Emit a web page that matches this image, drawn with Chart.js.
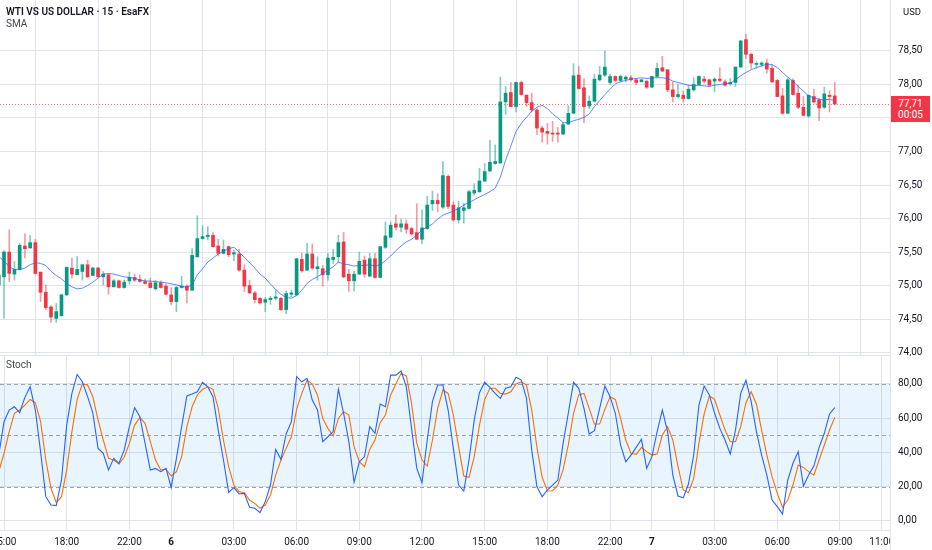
<!DOCTYPE html>
<html><head><meta charset="utf-8">
<script src="https://cdn.jsdelivr.net/npm/chart.js@4.4.1/dist/chart.umd.min.js"></script>
<style>
html,body{margin:0;padding:0;background:#fff;width:932px;height:550px;overflow:hidden;font-family:Roboto,"Liberation Sans",sans-serif;}
#wrap{position:relative;width:932px;height:550px;}
#c1{position:absolute;left:0;top:0;}
#c2{position:absolute;left:0;top:356px;}
.lbl{position:absolute;white-space:nowrap;line-height:12px;}
#pbox{position:absolute;left:891px;width:39px;height:26px;background:#F23645;color:#fff;font-size:10px;line-height:11px;text-align:center;padding-top:2px;box-sizing:border-box;}
</style></head>
<body><div id="wrap">
<canvas id="c1" width="932" height="356"></canvas>
<canvas id="c2" width="932" height="194"></canvas>
<div class="lbl" style="left:6px;top:6px;font-size:10px;font-weight:600;color:#131722">WTI VS US DOLLAR · 15 · EsaFX</div>
<div class="lbl" style="left:6px;top:18px;font-size:10px;color:#434651">SMA</div>
<div class="lbl" style="left:903px;top:6px;font-size:9.5px;color:#131722">USD</div>
<div class="lbl" style="left:6px;top:359px;font-size:10px;color:#434651">Stoch</div>
<div id="pbox"><div>77,71</div><div>00:05</div></div>
</div>
<script>
const xTickIdx = [1,13,25,33,45,57,69,81,93,105,117,125,137,149,161,169];
const xTickLabels = ["15:00","18:00","22:00","6","03:00","06:00","09:00","12:00","15:00","18:00","22:00","7","03:00","06:00","09:00","11:00"];
const priceTicks = [74,74.5,75,75.5,76,76.5,77,77.5,78,78.5];
const stochTicks = [0,20,40,60,80];
const lastTimeLabel = "00:05";

const open = [75.01,75.13,75.50,75.17,75.24,75.59,75.56,75.64,75.20,74.90,
74.68,74.51,74.55,74.86,75.26,75.16,75.21,75.31,75.15,75.26,
75.13,75.16,74.98,75.07,74.97,75.07,75.12,75.09,75.06,75.04,
74.95,75.04,74.99,74.86,74.76,74.97,74.99,74.93,75.43,75.70,
75.73,75.75,75.59,75.48,75.58,75.47,75.47,75.23,75.00,74.89,
74.81,74.75,74.79,74.81,74.81,74.64,74.87,74.86,75.39,75.23,
75.47,75.25,75.25,75.16,75.39,75.43,75.65,75.17,75.07,75.17,
75.38,75.14,75.40,75.12,75.57,75.72,75.92,75.87,75.92,75.85,
75.79,75.69,75.85,76.22,76.27,76.17,76.63,76.20,75.98,76.12,
76.15,76.38,76.40,76.56,76.71,76.82,76.83,77.74,77.88,77.67,
78.03,77.84,77.73,77.62,77.35,77.30,77.27,77.27,77.26,77.41,
77.57,78.14,77.95,77.68,77.75,78.07,78.14,78.03,78.12,78.06,
78.08,78.10,78.07,78.04,78.05,77.96,78.12,78.25,78.22,77.92,
77.82,77.84,77.79,77.92,78.00,78.08,78.07,78.05,78.08,78.04,
78.01,78.03,78.26,78.67,78.45,78.30,78.30,78.32,78.24,78.06,
77.83,77.57,78.06,77.87,77.66,77.53,77.82,77.77,77.66,77.84,
77.83];
const high = [75.20,75.52,75.83,75.36,75.63,75.77,75.75,75.69,75.20,75.01,
74.70,74.73,74.87,75.28,75.41,75.43,75.31,75.38,75.27,75.27,
75.21,75.17,75.09,75.08,75.08,75.20,75.17,75.16,75.10,75.11,
75.08,75.07,75.02,74.97,74.99,75.14,75.01,75.55,76.04,75.89,
75.88,75.79,75.69,75.68,75.59,75.53,75.54,75.31,75.08,74.91,
74.82,74.82,74.84,74.94,74.82,74.92,74.93,75.40,75.48,75.63,
75.62,75.43,75.30,75.48,75.54,75.75,75.79,75.24,75.21,75.50,
75.44,75.48,75.48,75.58,75.95,75.95,76.05,75.99,75.98,75.87,
76.22,76.13,76.33,76.41,76.37,76.85,76.65,76.25,76.26,76.23,
76.42,76.52,76.75,76.82,77.17,77.10,78.11,77.97,78.03,78.04,
78.05,77.85,77.87,77.64,77.38,77.42,77.45,77.36,77.43,77.68,
78.31,78.27,78.09,77.83,78.15,78.27,78.50,78.15,78.13,78.14,
78.13,78.13,78.09,78.08,78.06,78.12,78.32,78.42,78.22,78.04,
78.00,77.90,77.99,78.10,78.13,78.12,78.08,78.10,78.25,78.07,
78.09,78.26,78.66,78.75,78.47,78.34,78.34,78.38,78.29,78.07,
77.94,78.09,78.09,77.99,77.82,77.84,77.93,77.79,77.96,77.91,
78.03];
const low = [74.98,74.51,75.06,75.08,75.23,75.41,75.56,75.17,74.76,74.64,
74.45,74.45,74.54,74.85,75.11,75.16,75.08,75.12,75.15,75.12,
75.01,74.87,74.98,74.96,74.96,75.02,75.06,75.05,75.02,74.96,
74.93,74.96,74.86,74.71,74.61,74.96,74.74,74.93,75.42,75.69,
75.68,75.57,75.44,75.47,75.43,75.37,75.21,74.91,74.88,74.74,
74.72,74.61,74.72,74.79,74.63,74.58,74.83,74.85,75.20,75.22,
75.24,75.08,74.99,75.08,75.33,75.34,75.11,74.91,74.92,75.16,
75.12,75.13,75.11,75.12,75.55,75.72,75.83,75.80,75.78,75.75,
75.68,75.62,75.84,76.12,76.10,76.15,76.15,75.96,75.93,75.93,
76.14,76.35,76.39,76.55,76.70,76.81,76.82,77.55,77.67,77.59,
77.84,77.67,77.59,77.25,77.14,77.11,77.15,77.14,77.25,77.40,
77.57,77.93,77.43,77.64,77.74,78.05,78.12,78.00,78.04,78.04,
78.04,78.05,78.00,78.04,77.94,77.95,78.11,78.19,77.89,77.74,
77.80,77.74,77.78,77.90,77.99,78.02,77.98,77.89,78.04,77.97,
77.99,77.97,78.26,78.39,78.24,78.24,78.26,78.17,78.03,77.82,
77.56,77.57,77.84,77.64,77.53,77.51,77.72,77.46,77.64,77.59,
77.69];
const close = [75.16,75.50,75.18,75.24,75.60,75.55,75.64,75.18,74.90,74.67,
74.53,74.61,74.86,75.27,75.17,75.24,75.31,75.13,75.26,75.13,
75.17,74.98,75.07,74.97,75.05,75.12,75.08,75.06,75.03,74.97,
75.04,74.97,74.87,74.76,74.97,74.99,74.93,75.45,75.70,75.73,
75.75,75.58,75.48,75.54,75.46,75.49,75.23,74.99,74.89,74.79,
74.74,74.79,74.81,74.83,74.64,74.88,74.89,75.40,75.22,75.47,
75.26,75.28,75.16,75.41,75.42,75.64,75.13,75.07,75.17,75.36,
75.17,75.40,75.12,75.58,75.74,75.90,75.87,75.92,75.84,75.77,
75.69,75.86,76.20,76.27,76.22,76.64,76.18,75.98,76.16,76.16,
76.40,76.42,76.56,76.70,76.84,76.85,77.74,77.87,77.67,78.03,
77.85,77.73,77.62,77.35,77.29,77.27,77.26,77.26,77.40,77.57,
78.13,77.94,77.67,77.75,78.08,78.14,78.26,78.12,78.06,78.12,
78.11,78.07,78.03,78.07,77.96,78.12,78.24,78.20,77.92,77.82,
77.85,77.79,77.93,78.00,78.12,78.05,77.99,78.08,78.06,77.99,
78.03,78.26,78.65,78.45,78.32,78.31,78.32,78.23,78.04,77.82,
77.57,78.07,77.85,77.66,77.54,77.84,77.74,77.65,77.86,77.82,
77.71];

const smaIdx = [0,1,2,3,4,5,6,7,8,9,10,11,12,13,14,15,16,17,18,19,20,21,22,23,24,26,27,28,30,32,34,36,37,38,39,
40,41,42,43,44,45,46,47,48,49,50,51,52,53,54,55,56,57,58,59,60,61,62,63,64,65,66,67,68,69,70,71,72,73,74,75,76,77,78,79,
80,81,82,83,84,85,86,87,88,89,90,91,92,93,94,95,96,97,98,99,100,101,102,103,104,105,106,107,108,109,110,111,112,113,114,115,116,117,118,119,
120,121,122,123,124,125,126,127,128,129,130,131,132,133,134,135,136,137,138,139,140,141,142,143,144,145,146,147,148,149,150,151,152,153,154,155,156,157,158,159,160];
const smaVal = [75.43,75.37,75.28,75.24,75.24,75.26,75.31,75.34,75.33,75.30,75.21,75.15,75.10,75.03,74.98,74.95,74.96,75.00,75.05,75.11,75.17,75.18,75.17,75.15,75.13,75.11,75.08,75.07,75.06,75.04,75.01,74.97,75.01,75.16,75.25,
75.35,75.41,75.47,75.51,75.55,75.57,75.50,75.42,75.34,75.26,75.17,75.11,75.02,74.94,74.87,74.82,74.81,74.85,74.93,75.03,75.09,75.13,75.18,75.23,75.28,75.35,75.32,75.31,75.29,75.30,75.30,75.31,75.29,75.31,75.37,75.44,75.52,75.59,75.65,75.69,
75.75,75.83,75.87,75.92,75.99,76.05,76.08,76.11,76.15,76.20,76.24,76.28,76.32,76.36,76.40,76.45,76.62,76.87,77.08,77.30,77.42,77.51,77.60,77.66,77.69,77.64,77.56,77.50,77.43,77.43,77.46,77.48,77.51,77.56,77.67,77.76,77.85,77.93,78.01,78.04,
78.06,78.08,78.09,78.10,78.09,78.10,78.10,78.10,78.09,78.05,78.03,78.01,77.99,77.98,77.99,77.98,77.97,77.99,78.00,78.01,78.02,78.07,78.13,78.18,78.22,78.25,78.28,78.30,78.30,78.25,78.18,78.11,78.05,77.97,77.90,77.83,77.80,77.78,77.77,77.78,77.76];

const stochK = [38.5,58,64.8,66.7,63.2,72.2,78.4,64.8,40.5,14.2,
9.3,9,24,56,74.5,85.6,81.3,72.6,63.2,42.4,
39.5,29.8,36.6,33.7,41.4,55.1,66.2,60.9,45.3,29.8,
30.7,28.8,30.7,19.6,36.6,55.1,73,74.1,75.5,81,
78.4,72.6,53.1,35.6,16.7,19.5,15.8,16.1,8,7.4,
4.9,11.3,21,41.8,36,50.8,58,84.3,81.3,83.3,
70.6,64.8,46.3,49.2,52.2,76.9,62.9,46.3,22.6,34.6,
37.6,55.1,51.2,68.3,66.7,85.2,85.2,87.6,78.4,54.1,
30.7,22.4,47.3,69.7,79.4,79.4,64.8,42.4,21,17.5,
35.6,59,74.9,81,78,74.5,71.6,77.5,78.4,83.9,
82.3,71.6,41.4,20,14.2,18.1,21,23.9,45.3,62.9,
81,77.5,65.8,50.8,52.7,65.8,78.8,72.6,62.9,44.4,
34.6,38.5,43,47.7,30.7,37.6,52.2,64.8,52.2,26.8,
14.6,13.6,21.6,38.5,67.7,78.8,73.6,62.9,54.1,47.3,
39.1,53.1,74.5,82.3,69.7,52.2,38.5,26.8,12.2,8.4,
4.1,23.9,33.7,40.5,20.4,26.8,32.1,43,51.2,62.5,
66.2];
const stochD = [28.8,39.5,52.2,62.9,64.8,67.7,71,69.1,58,35.6,
19.1,10.7,14.2,29.8,52.2,71,80,79.4,72.6,59,
47.3,36.6,35.6,33.3,37.2,45.3,56,60.5,57,46.3,
35.6,29.8,30.2,26.3,28.8,37.6,55.1,66.7,73.6,76.9,
78.4,76.9,65.8,47.3,31.7,21,17.1,16.5,12.2,10.3,
7.4,9.3,15.2,26.8,35.6,42.4,49.2,65.2,74.5,82.3,
80,73.6,59.9,54.1,49.6,59.9,63.8,61.9,43.4,34.6,
31.7,41.8,47.3,57.4,61.9,73.6,80,86.2,84.7,68.7,
45.3,35.6,32.1,47.3,65.8,76.5,74.5,61.9,43.4,26.3,
25.5,37.6,56,71,77.5,77.5,74.5,74.1,75.5,80,
81.3,79.4,64.8,43,25.5,17.5,17.7,21,29.8,44.4,
62.9,73.6,74.5,65.8,56.6,56.6,65.2,72.6,71,59.9,
47.3,39.5,38.9,43,40.5,38.5,39.1,50.2,55.1,47.3,
31.7,18.1,16.5,24.9,45.3,62.5,73,71,61.9,53.1,
46.3,46.3,55.1,69.1,75.5,68.3,53.1,38.5,25.9,16.1,
8,12.2,21,32.7,31.3,28.8,26.8,35.6,44.4,53.1,
60.5];

const UP = '#089981', DN = '#F23645';
const UPW = 'rgba(8,153,129,0.5)', DNW = 'rgba(242,54,69,0.5)';
const GRID = '#e0e3eb';
const X_MIN = 0.2344, X_MAX = 170.57;

Chart.defaults.font.family = "Roboto, 'Liberation Sans', sans-serif";
Chart.defaults.font.size = 10;
Chart.defaults.color = '#131722';

const idx = open.map((_, i) => i);
const isUp = i => close[i] >= open[i];
const fmt = v => v.toFixed(2).replace('.', ',');

function xScale(showLabels) {
  return {
    type: 'linear', position: 'bottom', min: X_MIN, max: X_MAX, offset: false,
    grid: { color: GRID, drawTicks: false, lineWidth: 1 },
    border: { display: true, color: '#e0e3eb' },
    afterBuildTicks: s => { s.ticks = xTickIdx.map(v => ({ value: v })); },
    ticks: {
      display: showLabels, autoSkip: false, maxRotation: 0, padding: 6,
      callback: (v, i) => xTickLabels[i],
      font: ctx => ({ size: 10, weight: (ctx.tick && (ctx.tick.label === '6' || ctx.tick.label === '7')) ? 'bold' : 'normal' })
    },
    afterFit: s => { s.height = showLabels ? 20 : 0; s.paddingLeft = 0; s.paddingRight = 0; }
  };
}

const pricePlugin = {
  id: 'pricePlugin',
  beforeDatasetsDraw(chart) {
    const { ctx, chartArea: a, scales: { y } } = chart;
    const py = Math.round(y.getPixelForValue(close[close.length - 1])) + 0.5;
    ctx.save();
    ctx.strokeStyle = 'rgba(242,54,69,0.7)';
    ctx.lineWidth = 1;
    ctx.setLineDash([1, 2]);
    ctx.beginPath(); ctx.moveTo(a.left, py); ctx.lineTo(a.right, py); ctx.stroke();
    ctx.restore();
  }
};

const c1 = new Chart(document.getElementById('c1'), {
  type: 'bar',
  data: {
    datasets: [
      { type: 'line', label: 'SMA', data: smaIdx.map((v, k) => ({ x: v, y: smaVal[k] })),
        borderColor: 'rgba(41,98,255,0.75)', borderWidth: 1, pointRadius: 0, tension: 0, order: 0 },
      { label: 'body', data: idx.map(i => ({ x: i, y: [open[i], close[i]] })),
        backgroundColor: idx.map(i => isUp(i) ? UP : DN), barThickness: 3, minBarLength: 1,
        grouped: false, order: 1 },
      { label: 'wick', data: idx.map(i => ({ x: i, y: [low[i], high[i]] })),
        backgroundColor: idx.map(i => isUp(i) ? UPW : DNW), barThickness: 1, grouped: false, order: 2 }
    ]
  },
  options: {
    responsive: false, animation: false, events: [],
    layout: { padding: { left: 0, right: 0, top: 0, bottom: 1 } },
    plugins: { legend: { display: false }, tooltip: { enabled: false } },
    scales: {
      x: xScale(false),
      y: {
        position: 'right', min: 73.963, max: 79.261,
        grid: { color: GRID, drawTicks: false },
        border: { display: true, color: '#e0e3eb' },
        afterBuildTicks: s => { s.ticks = priceTicks.map(v => ({ value: v })); },
        ticks: { padding: 8, callback: v => fmt(v), color: '#131722' },
        afterFit: s => { s.width = 42; s.paddingTop = 0; s.paddingBottom = 0; }
      }
    }
  },
  plugins: [pricePlugin]
});

const pb = document.getElementById('pbox');
pb.style.top = (c1.scales.y.getPixelForValue(close[close.length - 1]) - 8) + 'px';
pb.children[0].textContent = fmt(close[close.length - 1]);
pb.children[1].textContent = lastTimeLabel;

const stochPlugin = {
  id: 'stochPlugin',
  beforeDatasetsDraw(chart) {
    const { ctx, chartArea: a, scales: { y } } = chart;
    const y80 = y.getPixelForValue(80), y20 = y.getPixelForValue(20), y50 = y.getPixelForValue(50);
    ctx.save();
    ctx.fillStyle = 'rgba(33,150,243,0.1)';
    ctx.fillRect(a.left, y80, a.right - a.left, y20 - y80);
    ctx.strokeStyle = '#9ea1aa';
    ctx.lineWidth = 1;
    ctx.setLineDash([4, 3]);
    [y80, y50, y20].forEach(p => {
      const q = Math.round(p) + 0.5;
      ctx.beginPath(); ctx.moveTo(a.left, q); ctx.lineTo(a.right, q); ctx.stroke();
    });
    ctx.restore();
  },
  afterDraw(chart) {
    const { ctx, chartArea: a } = chart;
    ctx.save();
    ctx.fillStyle = '#fff';
    ctx.fillRect(a.right + 1, a.bottom + 1, chart.width - a.right, chart.height - a.bottom);
    ctx.strokeStyle = '#e0e3eb';
    ctx.beginPath(); ctx.moveTo(a.right + 0.5, 0); ctx.lineTo(a.right + 0.5, chart.height); ctx.stroke();
    ctx.restore();
  }
};

new Chart(document.getElementById('c2'), {
  type: 'line',
  data: {
    datasets: [
      { label: '%K', data: idx.map(i => ({ x: i, y: stochK[i] })), borderColor: '#2962FF', borderWidth: 1.1, pointRadius: 0, tension: 0 },
      { label: '%D', data: idx.map(i => ({ x: i, y: stochD[i] })), borderColor: '#FF6D00', borderWidth: 1.1, pointRadius: 0, tension: 0 }
    ]
  },
  options: {
    responsive: false, animation: false, events: [],
    layout: { padding: 0 },
    plugins: { legend: { display: false }, tooltip: { enabled: false } },
    scales: {
      x: xScale(true),
      y: {
        position: 'right', min: -5.26, max: 96.35,
        grid: { color: GRID, drawTicks: false },
        border: { display: true, color: '#e0e3eb' },
        afterBuildTicks: s => { s.ticks = stochTicks.map(v => ({ value: v })); },
        ticks: { padding: 8, callback: v => fmt(v), color: '#131722' },
        afterFit: s => { s.width = 42; s.paddingTop = 0; s.paddingBottom = 0; }
      }
    }
  },
  plugins: [stochPlugin]
});
</script>
</body></html>
